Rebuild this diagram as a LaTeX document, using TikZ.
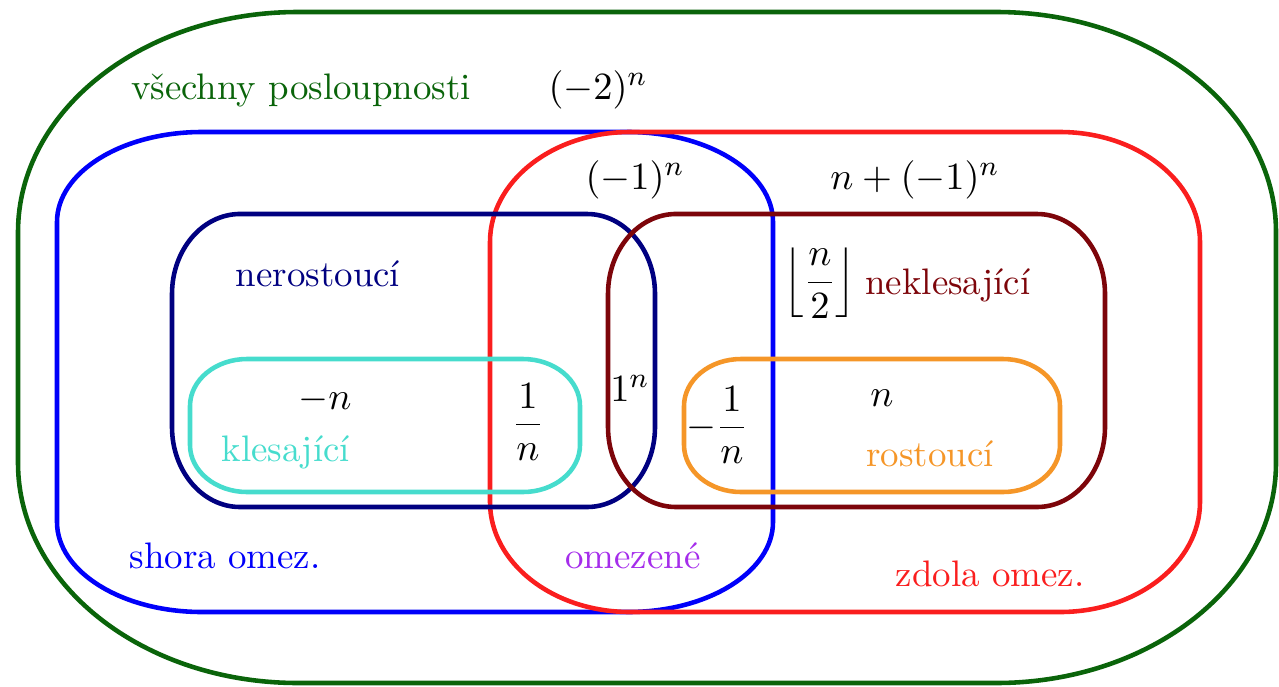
\documentclass[tikz,border=0pt]{standalone}
\usepackage{fontspec}
\usepackage{amsmath, amssymb}
\usetikzlibrary{positioning}

\definecolor{allgreen}{RGB}{10,100,10}
\definecolor{upblue}{RGB}{0,0,250}
\definecolor{lowred}{RGB}{250,30,30}
\definecolor{nonincnavy}{RGB}{0,0,128}
\definecolor{nondecred}{RGB}{125,5,10}
\definecolor{decturq}{RGB}{70,220,205}
\definecolor{incorange}{RGB}{245,150,40}
\definecolor{bndpurple}{RGB}{165,45,235}

% rectangle with elliptic corners: style, left, bottom, right, top, rx, ry
\newcommand{\vennset}[7]{%
  \draw[#1] (#2+#6,#5) -- (#4-#6,#5)
    arc[start angle=90, end angle=0, x radius=#6, y radius=#7] -- (#4,#3+#7)
    arc[start angle=0, end angle=-90, x radius=#6, y radius=#7] -- (#2+#6,#3)
    arc[start angle=270, end angle=180, x radius=#6, y radius=#7] -- (#2,#5-#7)
    arc[start angle=180, end angle=90, x radius=#6, y radius=#7] -- cycle;}

\begin{document}
\begin{tikzpicture}[line width=1.3pt,
  lbl/.style={font=\fontsize{10.5}{12}\selectfont},
  hand/.style={font=\fontsize{11}{13}\selectfont, inner sep=1pt}]
  \useasboundingbox (0,0) rectangle (12.79,6.86);

  % mnoziny
  \vennset{allgreen}{0.18}{0.03}{12.76}{6.74}{2.8}{2.2}
  \vennset{upblue}{0.57}{0.74}{7.73}{5.54}{1.45}{0.9}
  \vennset{lowred}{4.90}{0.74}{12.00}{5.54}{1.4}{1.1}
  \vennset{nonincnavy}{1.72}{1.79}{6.55}{4.72}{0.68}{0.8}
  \vennset{nondecred}{6.08}{1.79}{11.05}{4.72}{0.68}{0.8}
  \vennset{decturq}{1.90}{1.94}{5.80}{3.27}{0.57}{0.47}
  \vennset{incorange}{6.84}{1.94}{10.60}{3.27}{0.57}{0.47}

  % popisky
  \node[lbl, text=allgreen] (all) at (3.01,5.96) {všechny posloupnosti};
  \node[lbl, text=upblue] (upper) at (2.25,1.30) {shora omez.};
  \node[lbl, text=bndpurple] (bounded) at (6.33,1.30) {omezené};
  \node[lbl, text=lowred] (lower) at (9.90,1.12) {zdola omez.};
  \node[lbl, text=nonincnavy] (noninc) at (3.18,4.12) {nerostoucí};
  \node[lbl, text=nondecred] (nondec) at (9.48,4.01) {neklesající};
  \node[lbl, text=decturq] (dec) at (2.86,2.34) {klesající};
  \node[lbl, text=incorange] (inc) at (9.30,2.32) {rostoucí};

  % priklady
  \node[hand] (ex1) at (5.98,5.96) {$(-2)^n$};
  \node[hand] (ex2) at (6.35,5.06) {$(-1)^n$};
  \node[hand] (ex3) at (9.15,5.06) {$n+(-1)^n$};
  \node[hand] (ex4) at (8.20,4.03) {$\left\lfloor\dfrac{n}{2}\right\rfloor$};
  \node[hand] (ex5) at (3.25,2.86) {$-n$};
  \node[hand] (ex6) at (5.28,2.64) {$\dfrac{1}{n}$};
  \node[hand] (ex7) at (6.30,2.98) {$1^n$};
  \node[hand] (ex8) at (7.17,2.61) {$-\dfrac{1}{n}$};
  \node[hand] (ex9) at (8.82,2.88) {$n$};
\end{tikzpicture}
\end{document}
